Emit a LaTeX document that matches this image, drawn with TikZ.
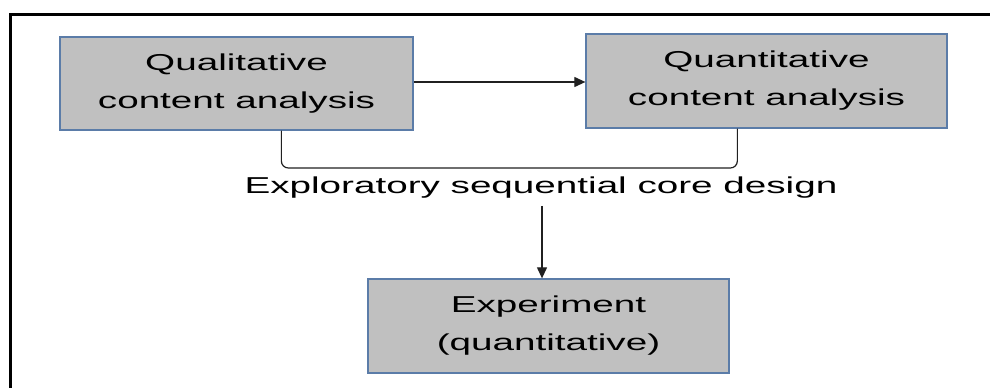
\documentclass[tikz,border=0pt]{standalone}
\usepackage{fontspec}
\setmainfont{Liberation Sans}[FakeStretch=1.68]
\usetikzlibrary{arrows.meta,calc}
\definecolor{boxfill}{HTML}{C0C0C0}
\definecolor{boxline}{HTML}{5B7CA8}
\definecolor{conn}{HTML}{202020}
\tikzset{
  stagebox/.style={draw=boxline, line width=1.3pt, fill=boxfill, rectangle,
    align=center, inner sep=0pt, font=\fontsize{23}{38}\selectfont},
  conline/.style={draw=conn, line width=1.2pt},
  conarrow/.style={conline, -{Triangle[length=11pt,width=10pt]}},
}
\begin{document}
\begin{tikzpicture}[x=1pt,y=-1pt]
\useasboundingbox (0,0) rectangle (990,388);
\draw[line width=3pt, black] (990,14) -- (10,14) -- (10,388);
\node[stagebox, minimum width=353pt, minimum height=93pt] (qual) at (236.5,83.5)
  {Qualitative\\content analysis};
\node[stagebox, minimum width=361pt, minimum height=94pt] (quan) at (766.5,81)
  {Quantitative\\content analysis};
\node[stagebox, minimum width=361pt, minimum height=94pt] (exp) at (548.5,326)
  {Experiment\\(quantitative)};
\node[anchor=base, inner sep=0pt, font=\fontsize{23}{28}\selectfont] (core) at (541,193)
  {Exploratory sequential core design};
\draw[conarrow] (qual.east |- 0,82) -- (quan.west |- 0,82);
\coordinate (bl) at ($(qual.south west)+(222,0)$);
\coordinate (br) at ($(quan.south west)+(152,0)$);
\draw[conline, rounded corners=7pt] (bl) -- (bl |- 0,168) -- (br |- 0,168) -- (br);
\draw[conarrow] ($(core.south)+(1,8)$) -- (exp.north -| 542,0);
\end{tikzpicture}
\end{document}
